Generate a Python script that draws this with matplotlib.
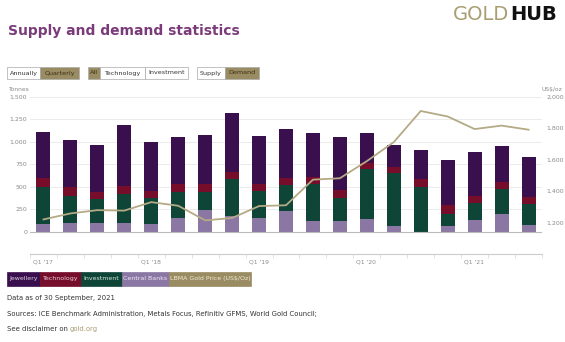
import numpy as np
import matplotlib
matplotlib.use("Agg")
import matplotlib.pyplot as plt
from matplotlib.patches import Rectangle

quarters = ["Q1 '17", "Q2 '17", "Q3 '17", "Q4 '17", "Q1 '18", "Q2 '18", "Q3 '18", "Q4 '18",
            "Q1 '19", "Q2 '19", "Q3 '19", "Q4 '19", "Q1 '20", "Q2 '20", "Q3 '20", "Q4 '20",
            "Q1 '21", "Q2 '21", "Q3 '21"]
central_banks = [86, 93, 93, 93, 86, 156, 241, 178, 148, 233, 119, 119, 141, 67, -11, 63, 130, 193, 74]
investment = [414, 307, 270, 326, 292, 288, 203, 404, 304, 286, 411, 259, 555, 581, 500, 134, 185, 281, 230]
technology = [93, 93, 81, 92, 74, 82, 82, 85, 74, 81, 81, 85, 71, 74, 82, 100, 81, 82, 85]
jewellery = [518, 526, 519, 674, 541, 522, 548, 648, 541, 537, 482, 585, 326, 241, 325, 500, 486, 396, 444]
gold_price = [1219, 1257, 1278, 1275, 1329, 1306, 1213, 1228, 1304, 1309, 1472, 1481, 1590, 1711,
              1909, 1874, 1794, 1816, 1790]
left_ticks = [0, 250, 500, 750, 1000, 1250, 1500]
right_ticks = [1200, 1400, 1600, 1800, 2000]

W, H = 565, 342
fig = plt.figure(figsize=(W / 100, H / 100), dpi=100)

def fx(px):
    return px / W

def fy(py):
    return 1 - py / H

C_JEW = "#3a0f4e"
C_TECH = "#750d2b"
C_INV = "#0e4536"
C_CB = "#8b77a3"
C_GOLD = "#b4aa86"
C_GOLDBOX = "#9a8c62"
C_TITLE = "#7b3b7a"
C_TICK = "#8a8a8a"

# Main axes
x0, x1 = 30, 542
ytop, ybot = 96.7, 240
ax = fig.add_axes([fx(x0), fy(ybot), fx(x1 - x0), (ybot - ytop) / H])
n = len(quarters)
x = np.arange(n)
cb = np.array(central_banks, float)
inv = np.array(investment, float)
tech = np.array(technology, float)
jew = np.array(jewellery, float)
bw = 0.52
cb_pos = np.where(cb > 0, cb, 0)
ax.bar(x, cb, bw, color=C_CB, zorder=3)
b = cb_pos.copy()
ax.bar(x, inv, bw, bottom=b, color=C_INV, zorder=3)
b = b + inv
ax.bar(x, tech, bw, bottom=b, color=C_TECH, zorder=3)
b = b + tech
ax.bar(x, jew, bw, bottom=b, color=C_JEW, zorder=3)

ax.set_xlim(-0.5, n - 0.5)
ax.set_ylim(-92, 1500)
ax.set_yticks(left_ticks)
ax.set_yticklabels([f"{v:,}" for v in left_ticks])
ax.set_xticks([])
for s in ax.spines.values():
    s.set_visible(False)
ax.tick_params(axis="y", length=0, labelsize=4.5, labelcolor=C_TICK, pad=2)
for v in left_ticks[1:]:
    ax.axhline(v, color="#ebebeb", lw=0.7, zorder=1)
ax.axhline(0, color="#bbbbbb", lw=0.8, zorder=4)

ax2 = ax.twinx()
ax2.plot(x, gold_price, color=C_GOLD, lw=1.3, zorder=5)
ax2.set_ylim(1088, 2000)
ax2.set_yticks(right_ticks)
ax2.set_yticklabels([f"{v:,}" for v in right_ticks])
for s in ax2.spines.values():
    s.set_visible(False)
ax2.tick_params(axis="y", length=0, labelsize=4.5, labelcolor=C_TICK, pad=3)

fig.text(fx(8), fy(90), "Tonnes", fontsize=4.3, color=C_TICK, va="center")
fig.text(fx(541), fy(90), "US$/oz", fontsize=4.3, color=C_TICK, va="center")

# Bottom navigator-like axis
axb = fig.add_axes([fx(x0), fy(254), fx(x1 - x0), 0.001])
axb.set_xlim(0, n)
axb.set_ylim(0, 1)
for s in ["left", "right", "top"]:
    axb.spines[s].set_visible(False)
axb.spines["bottom"].set_color("#cccccc")
axb.spines["bottom"].set_linewidth(0.8)
axb.set_yticks([])
axb.set_xticks(np.arange(n + 1))
axb.set_xticklabels([])
axb.tick_params(axis="x", length=3, color="#dddddd", width=0.6)
for i in range(0, n, 4):
    fig.text(fx(x0 + i * (x1 - x0) / n + 3), fy(262), quarters[i], fontsize=4.3,
             color=C_TICK, va="center", ha="left")

# Title and logo
fig.text(fx(8), fy(31), "Supply and demand statistics", fontsize=10, fontweight="bold",
         color=C_TITLE, va="center", ha="left")
t1 = fig.text(fx(453), fy(15), "GOLD", fontsize=14, color="#a99d72", va="center", ha="left")
fig.canvas.draw()
bb = t1.get_window_extent()
fig.text(bb.x1 / W + 0.002, fy(15), "HUB", fontsize=14, fontweight="bold", color="#111111",
         va="center", ha="left")

# Buttons
def box(xa, xb, ya, yb, label, selected, fs=4.6, fc=None, tc=None, ec=None):
    if fc is None:
        fc = C_GOLDBOX if selected else "white"
    if tc is None:
        tc = "#3b2f12" if selected else "#333333"
    r = Rectangle((fx(xa), fy(yb)), fx(xb - xa), (yb - ya) / H, transform=fig.transFigure,
                  facecolor=fc, edgecolor=ec if ec else "#aaaaaa", lw=0.5)
    fig.add_artist(r)
    fig.text(fx((xa + xb) / 2), fy((ya + yb) / 2), label, fontsize=fs, color=tc,
             ha="center", va="center")

by0, by1 = 66.7, 79.3
box(7, 40, by0, by1, "Annually", False)
box(40, 79, by0, by1, "Quarterly", True)
box(88, 100, by0, by1, "All", True)
box(100, 145, by0, by1, "Technology", False)
box(145, 188, by0, by1, "Investment", False)
box(197, 225, by0, by1, "Supply", False)
box(225, 259, by0, by1, "Demand", True)

# Legend
ly0, ly1 = 272, 285.5
box(7, 40, ly0, ly1, "Jewellery", False, fs=4.5, fc=C_JEW, tc="#d9d0e0", ec=C_JEW)
box(40, 81, ly0, ly1, "Technology", False, fs=4.5, fc=C_TECH, tc="#ecd0d6", ec=C_TECH)
box(81, 122, ly0, ly1, "Investment", False, fs=4.5, fc=C_INV, tc="#d0e6dc", ec=C_INV)
box(122, 169, ly0, ly1, "Central Banks", False, fs=4.5, fc=C_CB, tc="#f0eaf5", ec=C_CB)
box(169, 251, ly0, ly1, "LBMA Gold Price (US$/Oz)", False, fs=4.5, fc=C_GOLDBOX,
    tc="#f3ecd6", ec=C_GOLDBOX)

# Footer
fcol = "#333333"
ffs = 4.95
fig.text(fx(7), fy(298), "Data as of 30 September, 2021", fontsize=ffs, color=fcol, va="center")
fig.text(fx(7), fy(314), "Sources: ICE Benchmark Administration, Metals Focus, Refinitiv GFMS, World Gold Council;",
         fontsize=ffs, color=fcol, va="center")
t = fig.text(fx(7), fy(329), "See disclaimer on ", fontsize=ffs, color=fcol, va="center")
fig.canvas.draw()
bb = t.get_window_extent()
fig.text(bb.x1 / W, fy(329), "gold.org", fontsize=ffs, color="#a99d72", va="center")

fig.savefig("out.png", dpi=100)
